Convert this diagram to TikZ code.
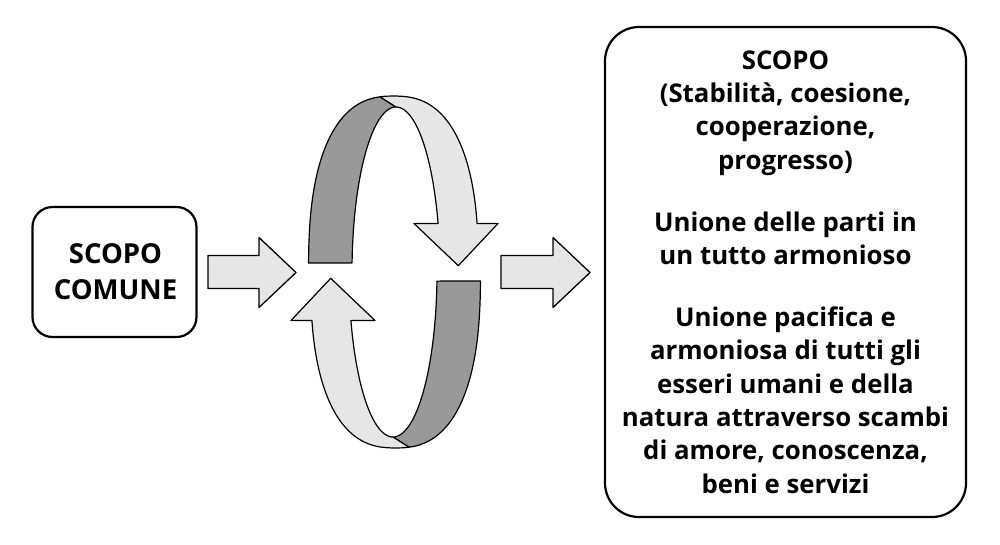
\documentclass[tikz,border=0pt]{standalone}
\usepackage{fontspec}
\setmainfont{Open Sans}
\definecolor{lightgr}{HTML}{E6E6E6}
\definecolor{darkgr}{HTML}{999999}
\begin{document}
\begin{tikzpicture}[x=1pt,y=-1pt,line join=round,
  declare function={
    sx(\t)=393.5+85*cos(\t)/pow(abs(cos(\t))+0.001,0.2);
    sy(\t)=271.5+175.5*sin(\t)/pow(abs(sin(\t))+0.001,0.2);
    ix(\t)=396+44*cos(\t);
    iy(\t)=271.5+164.5*sin(\t);
  }]
\tikzset{
  box/.style={draw=black, line width=2.2pt, fill=white, align=center, inner sep=0pt},
  blockarrow/.style={draw=black, line width=1.3pt, fill=lightgr},
  band/.style={draw=black, line width=1.2pt},
}
\useasboundingbox (0,0) rectangle (1000,544);
\fill[white] (0,0) rectangle (1000,544);

% left box
\node[box, rounded corners=20pt, minimum width=164pt, minimum height=130pt] (comune) at (114.5,272) {};
\node[align=center, inner sep=0pt, font=\bfseries\fontsize{27.5}{35.5}\selectfont] (comunetxt) at (115.5,271.5) {SCOPO\\COMUNE};

% right box
\node[box, rounded corners=34pt, minimum width=361pt, minimum height=490pt,
      font=\bfseries\fontsize{25.8}{33.3}\selectfont] (scopo) at (785.5,272)
  {SCOPO\\(Stabilità, coesione,\\cooperazione,\\progresso)\\[28.7pt]
   Unione delle parti in\\un tutto armonioso\\[28.7pt]
   Unione pacifica e\\armoniosa di tutti gli\\esseri umani e della\\natura attraverso scambi\\di amore, conoscenza,\\beni e servizi};

% block arrows
\coordinate (a1) at (208,272);
\coordinate (a2) at (501,272);
\draw[blockarrow] (a1) ++(0,-16.5) -- ++(51,0) -- ++(0,-18) -- ++(37,35) -- ++(-37,35) -- ++(0,-19) -- ++(-51,0) -- cycle;
\draw[blockarrow] (a2) ++(0,-16.5) -- ++(52,0) -- ++(0,-18) -- ++(37,35) -- ++(-37,35) -- ++(0,-19) -- ++(-52,0) -- cycle;

% circular arrows
\foreach \rot in {0,180}{
\begin{scope}[rotate around={\rot:(394.5,272)}]
  \filldraw[band, fill=darkgr] plot[domain=181.3:264.2, samples=40] ({sx(\x)},{sy(\x)})
     -- plot[domain=270:183, samples=40] ({ix(\x)},{iy(\x)}) -- cycle;
  \filldraw[band, fill=lightgr] plot[domain=264.2:348.6, samples=50] ({sx(\x)},{sy(\x)})
     -- (498,223.5) -- (458.3,265.7) -- (414,223.5)
     -- plot[domain=343:270, samples=40] ({ix(\x)},{iy(\x)}) -- cycle;
\end{scope}
}
\end{tikzpicture}
\end{document}
